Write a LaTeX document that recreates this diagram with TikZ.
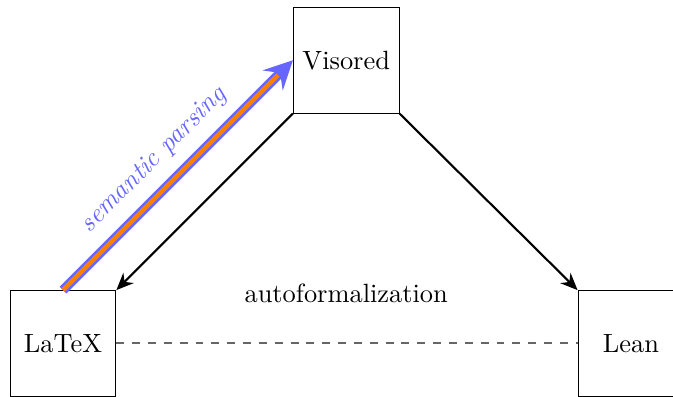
\documentclass[tikz,border=0pt]{standalone}
\usepackage{amsmath}
\usepackage{amssymb}
\usetikzlibrary{arrows, arrows.meta}

\begin{document}
\begin{tikzpicture}[
            > = {Stealth[length = 6.5pt, width = 5.5pt]}, % arrow head style
            thick % line style
        ]

        \tikzstyle{every node}=[
            minimum size = 4em
        ]
        \tikzstyle{lang}=[
            draw = black,
            thin
        ]

        \useasboundingbox (-0.839,-0.712) rectangle (8.12,4.572);

        \node[lang] (latex) at (0,0) {LaTeX};
        \node[lang] (visored) at (3.77,3.77) {Visored};
        \node[lang] (lean) at (7.56,0) {Lean};
        \node[minimum size = 0pt] (auto) at (3.77,0.672) {autoformalization};

        \path[->] (visored.south west) edge (latex.north east);
        \path[->] (visored.south east) edge (lean.north west);
        \draw[black!60, line width = 0.8pt, dashed] (latex.east) -- (lean.west);

        % semantic parsing arrow
        \draw[-stealth, blue!60, line width = 3.6pt] (latex.north) -- (visored.west)
            node[minimum size = 0pt, pos = 0.48, above = 1pt, sloped, font = \itshape] (parse) {semantic parsing};
        \draw[orange, line width = 1.8pt, shorten > = 8pt] (latex.north) -- (visored.west);
\end{tikzpicture}
\end{document}
